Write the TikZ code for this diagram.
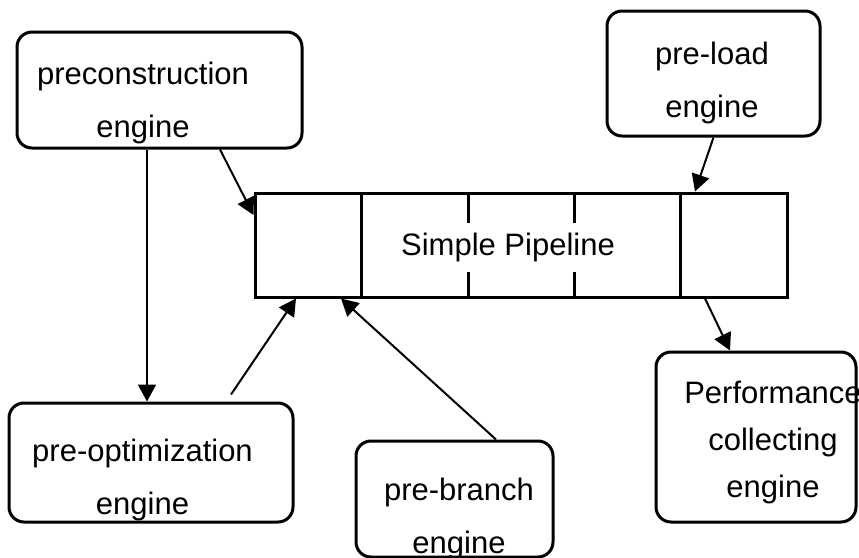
\documentclass[tikz,border=0pt]{standalone}
\usepackage{fontspec}
\setmainfont{Liberation Sans}
\usetikzlibrary{arrows.meta, positioning}

\tikzset{
    engine/.style={draw, line width=1.5pt, rounded corners=7.5pt, inner sep=0pt},
    label text/.style={align=center, font=\fontsize{15.5}{26.5}\selectfont},
    arr/.style={line width=1pt, -{Triangle[length=8.5pt, width=9pt]}}
}

\begin{document}
\begin{tikzpicture}[x=0.5pt, y=-0.5pt]
            \useasboundingbox (0,0) rectangle (859,558);
            % the pipeline
            \node[draw, line width=1.5pt, minimum width=266pt, minimum height=52pt, inner sep=0pt] (pipe) at (521,245) {};
            \node[label text] (pipetext) at (508,247) {Simple Pipeline};
            \foreach \x in {361,680}
                \draw[line width=1.5pt] (\x,0 |- pipe.north) -- (\x,0 |- pipe.south);
            \foreach \x in {468,574} {
                \draw[line width=1.5pt] (\x,0 |- pipe.north) -- (\x,223);
                \draw[line width=1.5pt] (\x,272) -- (\x,0 |- pipe.south);
            }
            % the engines
            \node[engine, minimum width=142.5pt, minimum height=58pt] (precon) at (159.5,90) {};
            \node[label text] (precontext) at (143,103) {preconstruction\\engine};
            \node[engine, minimum width=106.5pt, minimum height=62.5pt] (preload) at (713.5,73.5) {};
            \node[label text] (preloadtext) at (712,82.5) {pre-load\\engine};
            \node[engine, minimum width=142pt, minimum height=59.5pt] (preopt) at (151,462.5) {};
            \node[label text] (preopttext) at (142.5,480) {pre-optimization\\engine};
            \node[engine, minimum width=98.5pt, minimum height=58pt] (prebranch) at (454.5,499) {};
            \node[label text] (prebranchtext) at (459,519) {pre-branch\\engine};
            \node[engine, minimum width=100pt, minimum height=85pt] (perf) at (756,437) {};
            \node[label text, font=\fontsize{15.5}{23.5}\selectfont] (perftext) at (773,442.5) {Performance\\collecting\\engine};
            % connectors
            \draw[arr] ([xshift=-6.25pt]precon.south) -- ([xshift=-6.25pt]precon.south |- preopt.north);
            \draw[arr] ([xshift=30.25pt]precon.south) -- ([yshift=15pt]pipe.west);
            \draw[arr] (preload.south) -- ([xshift=87pt]pipe.north);
            \draw[arr] ([xshift=92pt]pipe.south) -- ([xshift=-13pt]perf.north);
            \draw[arr] ([shift={(40pt,3.5pt)}]preopt.north) -- ([xshift=-112.5pt]pipe.south);
            \draw[arr] ([xshift=20.75pt]prebranch.north) -- ([xshift=-90pt]pipe.south);
\end{tikzpicture}
\end{document}
